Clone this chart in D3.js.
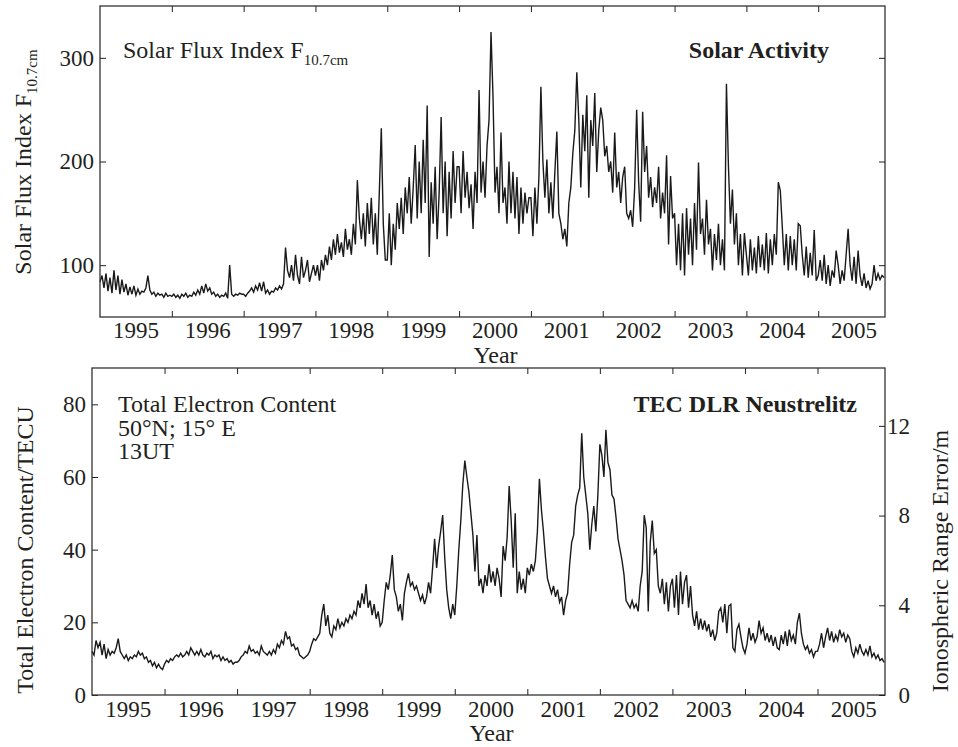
<!DOCTYPE html>
<html>
<head>
<meta charset="utf-8">
<script src="https://cdn.jsdelivr.net/npm/d3@7"></script>
<style>
  body { margin: 0; background: #fff; }
  svg text { font-family: "Liberation Serif", "Times New Roman", serif; fill: #231f20; }
  .tick-label { font-size: 23px; }
  .title { font-size: 24px; }
  .bold { font-weight: bold; }
</style>
</head>
<body>
<svg id="chart" width="958" height="747"></svg>
<script>
// daily-ish values, 36 samples per year
const f107_1995 = [84, 90, 78, 92, 75, 88, 73, 95, 76, 90, 72, 86, 74, 82, 71, 79, 72, 80, 71, 77, 72, 75, 74, 78, 90, 76, 72, 74, 70, 73, 71, 72, 69, 73, 70, 71];
const f107_1996 = [70, 72, 69, 71, 68, 72, 70, 73, 69, 71, 70, 74, 71, 76, 72, 80, 73, 82, 75, 78, 72, 74, 70, 72, 69, 71, 70, 73, 68, 100, 72, 70, 72, 71, 73, 72];
const f107_1997 = [72, 70, 73, 75, 78, 74, 80, 76, 83, 75, 84, 73, 76, 72, 75, 74, 78, 76, 80, 77, 82, 117, 95, 88, 100, 85, 110, 90, 82, 108, 88, 95, 105, 84, 92, 100];
const f107_1998 = [90, 100, 85, 105, 95, 110, 100, 118, 105, 125, 110, 130, 112, 122, 108, 135, 115, 125, 110, 140, 120, 182, 145, 125, 150, 118, 160, 130, 165, 120, 150, 110, 170, 232, 140, 105];
const f107_1999 = [105, 150, 100, 140, 115, 160, 135, 165, 130, 175, 150, 185, 140, 175, 216, 145, 200, 150, 221, 160, 254, 108, 180, 140, 195, 125, 170, 243, 150, 200, 128, 190, 145, 210, 160, 195];
const f107_2000 = [195, 150, 210, 165, 190, 155, 178, 135, 190, 160, 269, 170, 200, 165, 215, 240, 325, 262, 170, 195, 150, 228, 160, 175, 140, 200, 150, 190, 145, 185, 130, 175, 140, 170, 150, 165];
const f107_2001 = [165, 128, 175, 140, 185, 272, 200, 165, 202, 150, 180, 145, 190, 229, 150, 140, 125, 135, 118, 160, 175, 208, 230, 286, 240, 175, 245, 210, 264, 165, 240, 215, 266, 190, 230, 252];
const f107_2002 = [240, 205, 215, 190, 200, 170, 228, 175, 190, 160, 185, 195, 150, 145, 153, 137, 175, 250, 180, 142, 248, 190, 215, 165, 185, 156, 175, 160, 195, 145, 170, 150, 206, 120, 186, 145];
const f107_2003 = [150, 100, 140, 95, 150, 90, 155, 110, 145, 100, 160, 115, 199, 130, 145, 110, 163, 120, 135, 95, 130, 105, 140, 100, 125, 95, 275, 196, 140, 173, 120, 150, 100, 130, 90, 131];
const f107_2004 = [110, 90, 125, 95, 117, 92, 128, 98, 120, 95, 131, 92, 125, 100, 130, 110, 180, 172, 137, 100, 130, 95, 128, 100, 125, 95, 140, 138, 110, 90, 118, 88, 112, 90, 134, 85];
const f107_2005 = [90, 105, 85, 110, 82, 100, 80, 95, 88, 114, 100, 82, 95, 85, 110, 135, 100, 85, 108, 82, 114, 90, 80, 92, 78, 85, 77, 82, 100, 85, 92, 86, 90, 88];

const tec_1995 = [12, 11, 15, 13, 14.5, 11, 14, 10, 12.5, 11, 12, 11.5, 13, 15.5, 12, 11, 10, 11, 9.5, 10.5, 10, 11, 10.5, 12, 11, 11.5, 10, 10.5, 9, 9.5, 8, 9, 7.5, 8.5, 7.5, 7];
const tec_1996 = [8.5, 9.5, 9, 10, 9.5, 10.5, 11, 10.5, 11.5, 10.5, 11, 12, 11, 13, 12, 11, 12, 11, 12.5, 11, 10.5, 11.5, 11, 12, 10, 11, 10.5, 11, 9.5, 10.5, 9.5, 10, 9, 9.5, 8.5, 9];
const tec_1997 = [9, 9.5, 10.5, 11, 12, 11.5, 13.5, 12, 12.5, 11.5, 12, 11, 13.5, 12, 11.5, 11, 12, 11, 12.5, 11.5, 14, 13, 15, 14, 17.5, 15.5, 16, 13.5, 14, 12.5, 13, 11, 10.5, 10, 10.5, 11];
const tec_1998 = [12, 14, 15.5, 15, 16, 17, 22, 25, 19, 22, 17, 16, 19, 18, 21, 18.5, 20, 19, 21, 20, 22, 21, 23, 22, 26, 24, 28, 25, 30.5, 24, 26, 22, 25, 21, 23, 19];
const tec_1999 = [20, 26, 31, 29, 33, 38.5, 29, 27, 23, 25, 20.5, 28, 31, 33.5, 30, 31, 29, 30, 28, 26, 27.5, 25, 27, 31, 28, 35, 43, 35, 41, 45, 49.5, 38, 29, 24, 21, 25];
const tec_2000 = [22, 30, 40, 48, 58, 64.5, 60, 56, 50, 44, 34, 44, 30, 32, 28, 33, 30, 36, 31, 34, 30, 35, 32, 27, 41, 37, 43.5, 57.5, 48, 35, 50, 28, 34, 29, 32, 28];
const tec_2001 = [35, 33, 36, 34, 37, 45, 59.5, 51, 45, 38, 32, 30, 28, 30, 27, 29, 25.5, 27, 22, 26, 28, 36, 42, 44, 52, 55, 57, 72, 60, 55, 50, 40, 47, 52, 45, 55];
const tec_2002 = [69, 66, 60, 73, 64, 62, 55, 54, 49, 43, 40, 37, 33, 26, 25, 24, 26, 24, 25, 23, 30, 34, 49.5, 46, 23, 42, 48, 39, 40, 30, 28, 32, 25, 31, 23, 30];
const tec_2003 = [32, 24, 33, 22, 34, 25, 31, 33, 24, 30, 22, 19, 23, 18, 21, 18, 20.5, 17.5, 19.5, 16, 18, 15, 17, 23, 24, 20, 25, 17, 24.5, 25, 13, 12, 18, 19.5, 16, 13];
const tec_2004 = [11.5, 14, 18.5, 15, 17, 14.5, 16, 20.5, 17, 18.5, 15, 17, 14.5, 16.5, 13.5, 16, 13, 12.5, 16.5, 14, 17.5, 13.5, 18, 15, 16.5, 14, 20, 22.5, 17, 14, 12.5, 13.5, 11.5, 12.5, 10.5, 12];
const tec_2005 = [12, 14, 17, 13, 16, 18.5, 15, 17.5, 14.5, 16.5, 15, 18, 16, 17, 14.5, 16.5, 15.5, 12, 10.5, 13, 11.5, 14, 12, 11, 12.5, 11, 13.5, 10.5, 11.5, 10, 11, 9.5, 10, 9];

const years = [1995, 1996, 1997, 1998, 1999, 2000, 2001, 2002, 2003, 2004, 2005];
const yearTicks = [1996, 1997, 1998, 1999, 2000, 2001, 2002, 2003, 2004, 2005];
const fluxTicks = [100, 200, 300];
const tecTicks = [0, 20, 40, 60, 80];
const errTicks = [0, 4, 8, 12];
const metersPerTECU = 0.162;
const perYear = 36;

function series(yearly) {
    let out = [];
    yearly.forEach((vals, k) => {
        vals.forEach((v, i) => out.push({ t: years[k] + i / perYear, v: v }));
    });
    return out;
}

const flux = series([f107_1995, f107_1996, f107_1997, f107_1998, f107_1999, f107_2000,
                     f107_2001, f107_2002, f107_2003, f107_2004, f107_2005]);
const tec = series([tec_1995, tec_1996, tec_1997, tec_1998, tec_1999, tec_2000,
                    tec_2001, tec_2002, tec_2003, tec_2004, tec_2005]);

const svg = d3.select('#chart');
const ink = '#231f20';

function panel(x, y, data, yTicks, labelBaseline, titleGap) {
    const [x0, x1] = x.range();
    const [y1, y0] = y.range();

    svg.append('path')
        .datum(data)
        .attr('fill', 'none')
        .attr('stroke', '#1a1a1a')
        .attr('stroke-width', 1.4)
        .attr('d', d3.line().x(d => x(d.t)).y(d => y(d.v)));

    const strip = g => g.attr('font-family', null).attr('font-size', null).attr('color', ink)
        .call(g => g.select('.domain').remove());

    svg.append('g').attr('transform', `translate(0,${y1})`)
        .call(d3.axisBottom(x).tickValues(yearTicks).tickSize(-6).tickFormat(''))
        .call(strip);
    svg.append('g').attr('transform', `translate(0,${y0})`)
        .call(d3.axisTop(x).tickValues(yearTicks).tickSize(-6).tickFormat(''))
        .call(strip);
    svg.append('g').attr('transform', `translate(${x0},0)`)
        .call(d3.axisLeft(y).tickValues(yTicks).tickSize(-6).tickPadding(6))
        .call(strip)
        .selectAll('text').attr('class', 'tick-label');

    svg.append('rect')
        .attr('x', x0).attr('y', y0)
        .attr('width', x1 - x0).attr('height', y1 - y0)
        .attr('fill', 'none').attr('stroke', '#333').attr('stroke-width', 1.3);

    svg.append('g').selectAll('text').data(years).join('text')
        .attr('class', 'tick-label')
        .attr('x', d => x(d + 0.5))
        .attr('y', labelBaseline)
        .attr('text-anchor', 'middle')
        .text(d => d);

    svg.append('text').attr('class', 'title')
        .attr('x', (x0 + x1) / 2 + 3).attr('y', labelBaseline + titleGap)
        .attr('text-anchor', 'middle').text('Year');
}

// top panel: solar flux
const xTop = d3.scaleLinear().domain([1995, 2005.93]).range([100, 885]);
const yTop = d3.scaleLinear().domain([50, 350]).range([317, 6]);
panel(xTop, yTop, flux, fluxTicks, 338, 25);
svg.append('g').attr('transform', 'translate(885,0)')
    .call(d3.axisRight(yTop).tickValues(fluxTicks).tickSize(-6).tickFormat(''))
    .call(g => g.attr('color', ink).select('.domain').remove());

let t = svg.append('text').attr('class', 'title')
    .attr('transform', 'translate(31,162) rotate(-90)').attr('text-anchor', 'middle');
t.append('tspan').text('Solar Flux Index F');
t.append('tspan').attr('dy', 6).style('font-size', '15px').text('10.7cm');

t = svg.append('text').attr('class', 'title').attr('x', 123).attr('y', 58);
t.append('tspan').text('Solar Flux Index F');
t.append('tspan').attr('dy', 7).style('font-size', '15px').text('10.7cm');

svg.append('text').attr('class', 'title bold')
    .attr('x', 829).attr('y', 58).attr('text-anchor', 'end').text('Solar Activity');

// bottom panel: TEC with range error on the right
const xBot = d3.scaleLinear().domain([1995, 2005.93]).range([92, 885]);
const yBot = d3.scaleLinear().domain([0, 90]).range([695, 368]);
const yErr = d3.scaleLinear().domain([0, 90 * metersPerTECU]).range([695, 368]);
panel(xBot, yBot, tec, tecTicks, 717, 24);
svg.append('g').attr('transform', 'translate(885,0)')
    .call(d3.axisRight(yErr).tickValues(errTicks).tickSize(-6))
    .call(g => g.attr('font-family', null).attr('font-size', null).attr('color', ink)
        .select('.domain').remove())
    .selectAll('text').attr('class', 'tick-label')
    .attr('x', 25).attr('text-anchor', 'end');

svg.append('text').attr('class', 'title')
    .attr('transform', 'translate(33,550) rotate(-90)').attr('text-anchor', 'middle')
    .text('Total Electron Content/TECU');
svg.append('text').attr('class', 'title')
    .attr('transform', 'translate(948,561) rotate(-90)').attr('text-anchor', 'middle')
    .text('Ionospheric Range Error/m');

svg.append('g').selectAll('text')
    .data(['Total Electron Content', '50°N; 15° E', '13UT'])
    .join('text').attr('class', 'title')
    .attr('x', 118).attr('y', (d, i) => 412 + i * 23.5)
    .text(d => d);

svg.append('text').attr('class', 'title bold')
    .attr('x', 857).attr('y', 412).attr('text-anchor', 'end').text('TEC DLR Neustrelitz');
</script>
</body>
</html>
